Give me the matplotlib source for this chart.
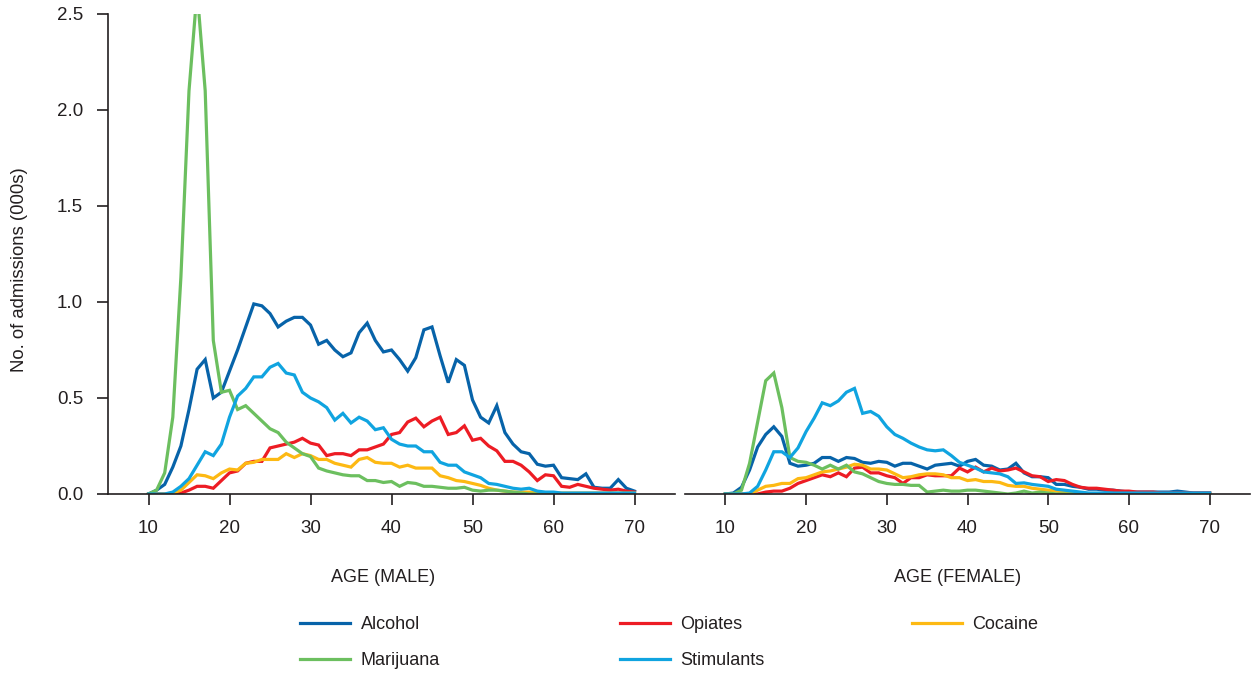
import numpy as np
import matplotlib
matplotlib.use("Agg")
import matplotlib.pyplot as plt

plt.rcParams['font.family'] = ['Liberation Sans', 'DejaVu Sans']

# ages 10..70, admissions in thousands
ages = np.arange(10, 71)

male_alcohol = [0.0, 0.02, 0.05, 0.14, 0.25, 0.44, 0.65, 0.70, 0.50, 0.53,
                0.64, 0.75, 0.87, 0.99, 0.98, 0.94, 0.87, 0.90, 0.92, 0.92,
                0.88, 0.78, 0.80, 0.75, 0.715, 0.735, 0.84, 0.89, 0.80, 0.74,
                0.75, 0.70, 0.64, 0.71, 0.855, 0.87, 0.72, 0.58, 0.70, 0.67,
                0.49, 0.40, 0.37, 0.46, 0.32, 0.26, 0.22, 0.21, 0.155, 0.145,
                0.15, 0.085, 0.08, 0.075, 0.105, 0.035, 0.03, 0.03, 0.075, 0.03,
                0.015]
male_opiates = [0.0, 0.0, 0.0, 0.0, 0.005, 0.02, 0.04, 0.04, 0.03, 0.07,
                0.11, 0.12, 0.16, 0.17, 0.17, 0.24, 0.25, 0.26, 0.27, 0.29,
                0.265, 0.255, 0.20, 0.21, 0.21, 0.20, 0.23, 0.23, 0.245, 0.26,
                0.31, 0.32, 0.375, 0.395, 0.35, 0.38, 0.40, 0.31, 0.32, 0.355,
                0.28, 0.29, 0.25, 0.225, 0.17, 0.17, 0.15, 0.115, 0.07, 0.10,
                0.095, 0.04, 0.035, 0.05, 0.04, 0.03, 0.025, 0.02, 0.025, 0.015,
                0.01]
male_cocaine = [0.0, 0.0, 0.0, 0.005, 0.02, 0.06, 0.10, 0.095, 0.08, 0.11,
                0.13, 0.125, 0.16, 0.165, 0.18, 0.18, 0.18, 0.21, 0.19, 0.21,
                0.20, 0.18, 0.18, 0.16, 0.15, 0.14, 0.18, 0.19, 0.165, 0.16,
                0.16, 0.14, 0.15, 0.135, 0.135, 0.135, 0.095, 0.085, 0.07, 0.065,
                0.055, 0.045, 0.03, 0.02, 0.015, 0.01, 0.01, 0.01, 0.005, 0.005,
                0.005, 0.005, 0.005, 0.005, 0.005, 0.005, 0.005, 0.005, 0.005, 0.005,
                0.005]
male_marijuana = [0.0, 0.02, 0.11, 0.40, 1.13, 2.10, 2.62, 2.10, 0.80, 0.53,
                  0.54, 0.44, 0.46, 0.42, 0.38, 0.34, 0.32, 0.27, 0.24, 0.21,
                  0.195, 0.135, 0.12, 0.11, 0.10, 0.095, 0.095, 0.07, 0.07, 0.06,
                  0.065, 0.04, 0.06, 0.055, 0.04, 0.04, 0.035, 0.03, 0.03, 0.035,
                  0.02, 0.015, 0.02, 0.02, 0.015, 0.01, 0.005, 0.0, 0.0, 0.0,
                  0.0, 0.0, 0.0, 0.0, 0.0, 0.0, 0.0, 0.0, 0.0, 0.0,
                  0.0]
male_stimulants = [0.0, 0.0, 0.0, 0.01, 0.04, 0.08, 0.15, 0.22, 0.20, 0.26,
                   0.40, 0.51, 0.55, 0.61, 0.61, 0.66, 0.68, 0.63, 0.62, 0.53,
                   0.50, 0.48, 0.45, 0.385, 0.42, 0.37, 0.40, 0.38, 0.335, 0.345,
                   0.285, 0.26, 0.25, 0.25, 0.22, 0.22, 0.165, 0.15, 0.15, 0.115,
                   0.10, 0.085, 0.055, 0.05, 0.04, 0.03, 0.025, 0.03, 0.015, 0.01,
                   0.01, 0.005, 0.005, 0.005, 0.005, 0.005, 0.005, 0.005, 0.005, 0.005,
                   0.005]

female_alcohol = [0.0, 0.005, 0.035, 0.125, 0.245, 0.31, 0.35, 0.30, 0.16, 0.145,
                  0.15, 0.16, 0.19, 0.19, 0.17, 0.19, 0.185, 0.165, 0.16, 0.17,
                  0.165, 0.145, 0.16, 0.16, 0.145, 0.13, 0.15, 0.155, 0.16, 0.145,
                  0.17, 0.18, 0.15, 0.145, 0.125, 0.13, 0.16, 0.11, 0.09, 0.09,
                  0.085, 0.05, 0.05, 0.04, 0.035, 0.025, 0.025, 0.02, 0.02, 0.015,
                  0.01, 0.01, 0.01, 0.01, 0.01, 0.01, 0.015, 0.01, 0.005, 0.005,
                  0.005]
female_opiates = [0.0, 0.0, 0.0, 0.0, 0.0, 0.01, 0.015, 0.015, 0.03, 0.055,
                  0.07, 0.085, 0.10, 0.09, 0.11, 0.09, 0.135, 0.14, 0.11, 0.11,
                  0.095, 0.085, 0.055, 0.085, 0.085, 0.10, 0.095, 0.095, 0.095, 0.135,
                  0.115, 0.14, 0.115, 0.135, 0.12, 0.125, 0.135, 0.115, 0.095, 0.09,
                  0.065, 0.075, 0.07, 0.05, 0.035, 0.03, 0.03, 0.025, 0.02, 0.015,
                  0.015, 0.01, 0.01, 0.01, 0.005, 0.005, 0.005, 0.005, 0.005, 0.005,
                  0.005]
female_cocaine = [0.0, 0.0, 0.0, 0.0, 0.02, 0.04, 0.045, 0.055, 0.055, 0.08,
                  0.085, 0.10, 0.115, 0.12, 0.13, 0.14, 0.155, 0.15, 0.13, 0.13,
                  0.125, 0.105, 0.085, 0.09, 0.10, 0.105, 0.105, 0.10, 0.085, 0.085,
                  0.07, 0.075, 0.065, 0.065, 0.06, 0.045, 0.04, 0.04, 0.03, 0.025,
                  0.02, 0.015, 0.01, 0.01, 0.005, 0.0, 0.0, 0.0, 0.0, 0.0,
                  0.0, 0.0, 0.0, 0.0, 0.0, 0.0, 0.0, 0.0, 0.0, 0.0,
                  0.0]
female_marijuana = [0.0, 0.0, 0.02, 0.16, 0.375, 0.59, 0.63, 0.45, 0.19, 0.17,
                    0.165, 0.15, 0.13, 0.15, 0.13, 0.15, 0.115, 0.105, 0.085, 0.065,
                    0.055, 0.05, 0.05, 0.045, 0.045, 0.01, 0.015, 0.02, 0.015, 0.015,
                    0.02, 0.02, 0.015, 0.01, 0.005, 0.0, 0.005, 0.015, 0.005, 0.01,
                    0.005, 0.0, 0.0, 0.0, 0.0, 0.0, 0.0, 0.0, 0.0, 0.0,
                    0.0, 0.0, 0.0, 0.0, 0.0, 0.0, 0.0, 0.0, 0.0, 0.0,
                    0.0]
female_stimulants = [0.0, 0.0, 0.0, 0.005, 0.04, 0.125, 0.22, 0.22, 0.19, 0.24,
                     0.325, 0.395, 0.475, 0.46, 0.485, 0.53, 0.55, 0.42, 0.43, 0.405,
                     0.35, 0.31, 0.29, 0.265, 0.245, 0.23, 0.225, 0.23, 0.20, 0.165,
                     0.15, 0.135, 0.115, 0.11, 0.105, 0.09, 0.055, 0.058, 0.05, 0.045,
                     0.04, 0.025, 0.02, 0.015, 0.01, 0.005, 0.005, 0.005, 0.005, 0.005,
                     0.005, 0.005, 0.005, 0.005, 0.005, 0.005, 0.005, 0.005, 0.005, 0.005,
                     0.005]

drugs = ['Alcohol', 'Opiates', 'Cocaine', 'Marijuana', 'Stimulants']
colors = ['#0763A9', '#ED1C24', '#FDB913', '#6CBF5F', '#10A4E0']
male = [male_alcohol, male_opiates, male_cocaine, male_marijuana, male_stimulants]
female = [female_alcohol, female_opiates, female_cocaine, female_marijuana, female_stimulants]

ink = '#231F20'

fig = plt.figure(figsize=(12.52, 6.75), dpi=100)
ax_m = fig.add_axes([108 / 1252, 1 - 494 / 675, 567 / 1252, 480 / 675])
ax_f = fig.add_axes([685 / 1252, 1 - 494 / 675, 565 / 1252, 480 / 675])

lines = []
for ax, series in [(ax_m, male), (ax_f, female)]:
    for name, vals, c in zip(drugs, series, colors):
        ln, = ax.plot(ages, vals, color=c, lw=2.3, label=name, solid_joinstyle='miter')
        if ax is ax_m:
            lines.append(ln)
    ax.set_xlim(5, 75)
    ax.set_ylim(0, 2.5)
    ax.set_xticks(range(10, 71, 10))
    for s in ['top', 'right']:
        ax.spines[s].set_visible(False)
    ax.spines['bottom'].set_color(ink)
    ax.spines['bottom'].set_linewidth(1.2)
    ax.tick_params(axis='x', direction='out', length=8, width=1.2, color=ink,
                   labelsize=13.5, labelcolor=ink, pad=10.5)

ax_m.spines['left'].set_color(ink)
ax_m.spines['left'].set_linewidth(1.2)
ax_m.set_yticks(np.arange(0, 2.51, 0.5))
ax_m.set_yticklabels(['%.1f' % v for v in np.arange(0, 2.51, 0.5)])
ax_m.tick_params(axis='y', direction='out', length=8, width=1.2, color=ink,
                 labelsize=13.5, labelcolor=ink, pad=10)

ax_f.spines['left'].set_visible(False)
ax_f.set_yticks([])

fig.text(19.5 / 1252, 1 - 270 / 675, 'No. of admissions (000s)', rotation=90,
         ha='center', va='center', fontsize=13.3, color=ink)
fig.text(383 / 1252, 1 - 577 / 675, 'AGE (MALE)', ha='center', va='center',
         fontsize=13, color=ink)
fig.text(958 / 1252, 1 - 577 / 675, 'AGE (FEMALE)', ha='center', va='center',
         fontsize=13, color=ink)

# legend in three column groups
groups = [([lines[0], lines[3]], 300), ([lines[1], lines[4]], 620), ([lines[2]], 912)]
for handles, xpix in groups:
    leg = fig.legend(handles=handles, labels=[h.get_label() for h in handles],
                     loc='upper left', bbox_to_anchor=(xpix / 1252, 1 - 616 / 675),
                     frameon=False, fontsize=13, borderpad=0, borderaxespad=0,
                     handlelength=2.75, handletextpad=0.6, labelspacing=1.07)
    for t in leg.get_texts():
        t.set_color(ink)

fig.savefig('out.png', dpi=100)
